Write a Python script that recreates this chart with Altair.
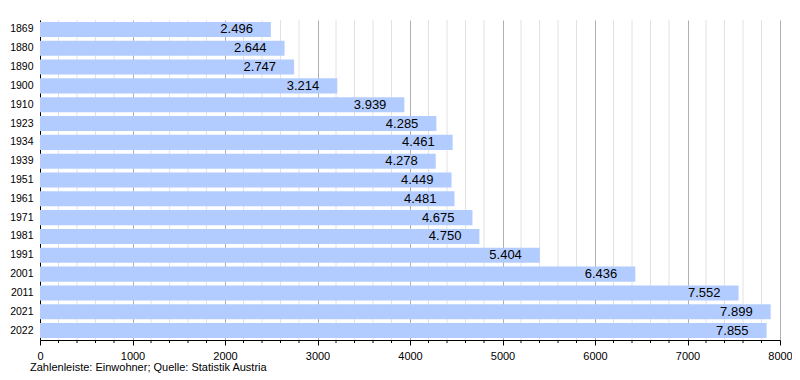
import altair as alt
import pandas as pd

years = ["1869", "1880", "1890", "1900", "1910", "1923", "1934", "1939", "1951",
         "1961", "1971", "1981", "1991", "2001", "2011", "2021", "2022"]
population = [2496, 2644, 2747, 3214, 3939, 4285, 4461, 4278, 4449,
              4481, 4675, 4750, 5404, 6436, 7552, 7899, 7855]
major_ticks = [0, 1000, 2000, 3000, 4000, 5000, 6000, 7000, 8000]
minor_ticks = [200, 400, 600, 800, 1200, 1400, 1600, 1800, 2200, 2400, 2600, 2800,
               3200, 3400, 3600, 3800, 4200, 4400, 4600, 4800, 5200, 5400, 5600, 5800,
               6200, 6400, 6600, 6800, 7200, 7400, 7600, 7800]
footer = "Zahlenleiste: Einwohner; Quelle: Statistik Austria"

df = pd.DataFrame({
    "year": years,
    "pop": population,
    "label": [f"{v:,}".replace(",", ".") for v in population],
})
minor_df = pd.DataFrame({"v": minor_ticks})

xscale = alt.Scale(domain=[0, 8000], nice=False, zero=True)
xaxis = alt.Axis(
    values=major_ticks, grid=True, gridColor="#b0b0b0", gridWidth=1,
    domainColor="black", tickColor="black", tickSize=5,
    labelFontSize=11, labelColor="black", labelPadding=5, format="d",
    labelFlush=False, title=None,
)

minor_grid = alt.Chart(minor_df).mark_rule(color="#e2e2e2", strokeWidth=1).encode(
    x=alt.X("v:Q", scale=xscale, axis=xaxis)
)

bars = alt.Chart(df).mark_bar(color="#b3ccff").encode(
    x=alt.X("pop:Q", scale=xscale, axis=xaxis),
    y=alt.Y("year:N", sort=years, title=None,
            scale=alt.Scale(paddingInner=0.2, paddingOuter=0.1)),
)

labels = alt.Chart(df).mark_text(
    align="right", baseline="middle", dx=-18, fontSize=13, color="black"
).encode(
    x=alt.X("pop:Q", scale=xscale, axis=xaxis),
    y=alt.Y("year:N", sort=years, title=None),
    text="label:N",
)

minor_tick_marks = alt.Chart(minor_df).mark_rule(color="black", strokeWidth=1).encode(
    x=alt.X("v:Q", scale=xscale, axis=xaxis),
    y=alt.value(320),
    y2=alt.value(323),
)

chart = alt.layer(minor_grid, bars, labels, minor_tick_marks).properties(
    width=740,
    height=320,
    autosize=alt.AutoSizeParams(type="none"),
    padding={"left": 32, "top": 12, "right": 12, "bottom": 40},
    title=alt.TitleParams(
        footer, orient="bottom", anchor="start", frame="group",
        dx=-10, fontSize=11, fontWeight="normal", color="black", offset=1,
    ),
).configure(
    font="Liberation Sans"
).configure_view(
    stroke=None
).configure_axisY(
    ticks=False, domainColor="black", labelFontSize=10.5, labelColor="black",
    labelPadding=7, grid=False,
)

chart.save("out.html", embed_options={"renderer": "svg", "actions": False})
